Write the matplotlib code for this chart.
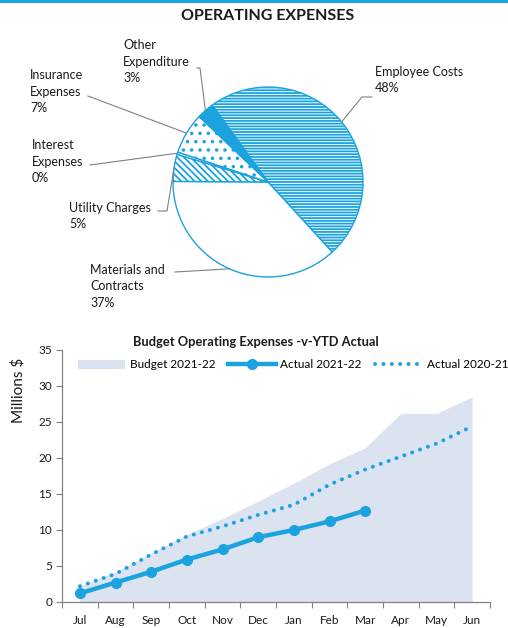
import numpy as np
import matplotlib.pyplot as plt
from matplotlib.patches import Rectangle

plt.rcParams['font.family'] = ['Lato', 'DejaVu Sans']
plt.rcParams['hatch.linewidth'] = 1.3

BLUE = '#1ba3df'
GREY = '#808080'

# Operating expenses breakdown (% of total)
categories = ['Employee Costs', 'Materials and\nContracts', 'Utility Charges',
              'Interest\nExpenses', 'Insurance\nExpenses', 'Other\nExpenditure']
shares = [48.2, 36.9, 4.6, 0.4, 7.0, 2.9]

# Monthly cumulative figures, millions $
months = ['Jul', 'Aug', 'Sep', 'Oct', 'Nov', 'Dec', 'Jan', 'Feb', 'Mar', 'Apr', 'May', 'Jun']
budget_2122 = [2.2, 4.2, 6.8, 9.4, 11.6, 14.0, 16.5, 19.2, 21.4, 26.2, 26.2, 28.5]
actual_2122 = [1.2, 2.7, 4.2, 5.9, 7.3, 9.0, 10.0, 11.2, 12.7]
actual_2021 = [2.2, 3.9, 6.6, 9.1, 10.5, 12.1, 13.5, 16.3, 18.4, 20.2, 22.0, 24.4]

W, H = 508, 628
fig = plt.figure(figsize=(W / 100, H / 100), dpi=100)
fig.add_artist(Rectangle((0, 1 - 3 / H), 1, 3 / H, color=BLUE,
                         transform=fig.transFigure, lw=0))

# ---- pie chart, axes in pixel units (y measured from bottom) ----
top0, top1 = 8, 320
pax = fig.add_axes([0, (H - top1) / H, 1, (top1 - top0) / H])

cx, cy, r = 268, H - 182, 95
wedges, _ = pax.pie(shares, startangle=126, counterclock=False,
                    center=(cx, cy), radius=r, frame=True,
                    wedgeprops=dict(edgecolor=BLUE, linewidth=1.0))
pax.set_xlim(0, W)
pax.set_ylim(H - top1, H - top0)
pax.set_aspect('equal')
pax.axis('off')

styles = [('white', '------'), ('white', None), ('white', '\\\\\\\\\\'),
          ('white', None), ('white', '..'), (BLUE, None)]
for w, (fc, hatch) in zip(wedges, styles):
    w.set_facecolor(fc)
    if hatch:
        w.set_hatch(hatch)

pax.text(cx, H - 16, 'OPERATING EXPENSES', ha='center', va='center',
         fontsize=11.5, fontweight='bold', color='#1a1a1a')

# label position (left, top) and leader path start points, in pixels from top
label_pos = [(375, 66), (90, 264), (69, 202), (32, 139), (30, 69), (123, 39)]
leader = [[(372, 97), (362, 97)], [(175, 272)], [(158, 211), (167, 211)],
          [(90, 165)], [(88, 96)], [(197, 68), (200, 68)]]
for w, name, val, (lx, ly), pts in zip(wedges, categories, shares, label_pos, leader):
    pax.text(lx, H - ly, f'{name}\n{val:.0f}%', ha='left', va='top',
             fontsize=9, linespacing=1.45, color='#1a1a1a')
    mid = np.deg2rad((w.theta1 + w.theta2) / 2)
    ex, ey = cx + r * np.cos(mid), cy + r * np.sin(mid)
    xs = [p[0] for p in pts] + [ex]
    ys = [H - p[1] for p in pts] + [ey]
    pax.plot(xs, ys, color=GREY, lw=0.8)

# ---- budget vs actual line chart ----
ax = fig.add_axes([62 / W, (H - 602) / H, 428 / W, 252 / H])
x = np.arange(len(months))
ax.fill_between(x, budget_2122, color='#dae3ef', lw=0, label='Budget 2021-22')
ax.plot(x[:len(actual_2122)], actual_2122, color=BLUE, lw=3.2, marker='o',
        markersize=7, label='Actual 2021-22')
ax.plot(x, actual_2021, color=BLUE, lw=2.8, linestyle=(0, (0.05, 2.1)),
        dash_capstyle='round', label='Actual 2020-21')

ax.set_xlim(-0.5, 11.5)
ax.set_ylim(0, 35)
ax.set_yticks(range(0, 36, 5))
ax.set_xticks(np.arange(-0.5, 12, 1))
ax.set_xticklabels([])
ax.set_xticks(x, minor=True)
ax.set_xticklabels(months, minor=True)
ax.tick_params(axis='x', which='minor', length=0, pad=9)
ax.tick_params(axis='both', which='both', labelsize=8.5, labelcolor='#1a1a1a')
ax.tick_params(axis='both', which='major', length=4, color=GREY)
ax.tick_params(axis='y', pad=3)
for s in ['top', 'right']:
    ax.spines[s].set_visible(False)
for s in ['left', 'bottom']:
    ax.spines[s].set_color(GREY)
    ax.spines[s].set_linewidth(0.9)

fig.text(256 / W, 1 - 342 / H, 'Budget Operating Expenses -v-YTD Actual',
         ha='center', va='center', fontsize=9.3, fontweight='bold', color='#1a1a1a')
fig.text(18 / W, 1 - 390 / H, 'Millions $', rotation=90, ha='center', va='center',
         fontsize=11, color='#1a1a1a')

ax.legend(loc='center', bbox_to_anchor=(293 / W, 1 - 365 / H),
          bbox_transform=fig.transFigure, ncol=3, frameon=False, fontsize=8.5,
          handlelength=4.0, handletextpad=0.4, columnspacing=1.1,
          handleheight=0.7)

fig.savefig('out.png', dpi=100)
